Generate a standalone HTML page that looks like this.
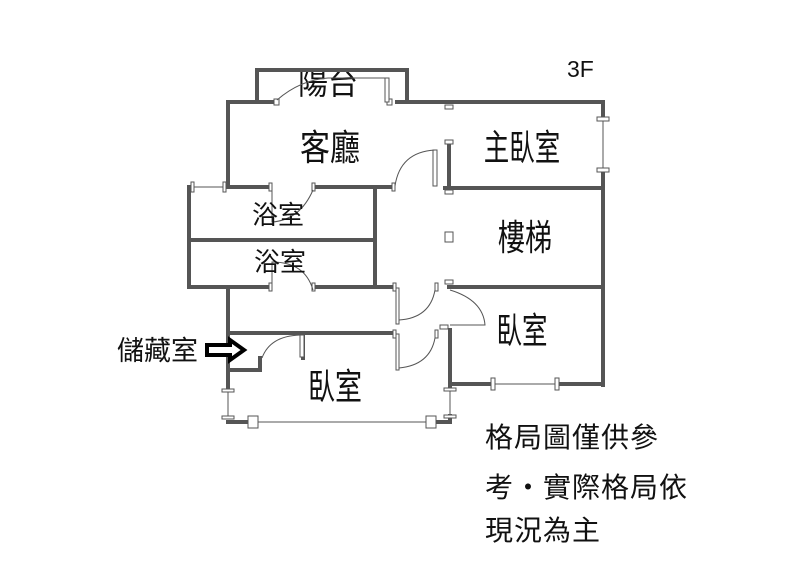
<!DOCTYPE html>
<html><head><meta charset="utf-8"><style>
html,body{margin:0;padding:0;background:#fff;width:797px;height:575px;overflow:hidden}
svg{display:block}
text{font-family:"Liberation Sans","Noto Sans CJK TC",sans-serif;fill:#111}
</style></head><body>
<svg width="797" height="575" viewBox="0 0 797 575">
<defs><clipPath id="bc"><rect x="255" y="70" width="160" height="40"/></clipPath></defs>
<text x="328" y="94" font-size="30" text-anchor="middle" clip-path="url(#bc)" transform="translate(328,94) scale(1,1.05) translate(-328,-94)">陽台</text>
<g stroke="#555" stroke-width="4" fill="none" stroke-linecap="square">
<polyline points="257,100 257,70 407,70 407,100"/>
<line x1="228" y1="102" x2="274" y2="102"/>
<line x1="397" y1="102" x2="603" y2="102"/>
<line x1="228" y1="102" x2="228" y2="187"/>
<line x1="603" y1="102" x2="603" y2="116"/>
<line x1="603" y1="172" x2="603" y2="385"/>
<line x1="228" y1="187" x2="270" y2="187"/>
<line x1="314" y1="187" x2="393" y2="187"/>
<line x1="445" y1="188" x2="603" y2="188"/>
<line x1="449" y1="143" x2="449" y2="188"/>
<line x1="189" y1="187" x2="189" y2="287"/>
<line x1="375" y1="187" x2="375" y2="287"/>
<line x1="189" y1="240" x2="375" y2="240"/>
<line x1="189" y1="287" x2="270" y2="287"/>
<line x1="314" y1="287" x2="393" y2="287"/>
<line x1="449" y1="287" x2="603" y2="287"/>
<line x1="228" y1="287" x2="228" y2="390"/>
<line x1="228" y1="333" x2="393" y2="333"/>
<polyline points="228,370 260,370 260,358"/>
<line x1="303" y1="335" x2="303" y2="358"/>
<line x1="450" y1="330" x2="450" y2="388"/>
<line x1="450" y1="384" x2="492" y2="384"/>
<line x1="558" y1="384" x2="603" y2="384"/>
<line x1="228" y1="422" x2="248" y2="422"/>
<line x1="436" y1="422" x2="450" y2="422"/>
<line x1="450" y1="416" x2="450" y2="422"/>
</g>
<g stroke="#555" stroke-width="1" fill="#fff">
<line x1="603" y1="118" x2="603" y2="170"/>
<rect x="597" y="117" width="12" height="4"/><rect x="597" y="168" width="12" height="4"/>
<line x1="192" y1="187" x2="225" y2="187"/>
<rect x="191" y="182" width="3" height="10"/><rect x="223" y="182" width="3" height="10"/>
<line x1="228" y1="392" x2="228" y2="418"/>
<rect x="222" y="389" width="12" height="3"/><rect x="222" y="416" width="12" height="3"/>
<line x1="258" y1="422" x2="426" y2="422"/>
<rect x="248" y="416" width="10" height="12"/><rect x="426" y="416" width="10" height="12"/>
<line x1="450" y1="390" x2="450" y2="416"/>
<rect x="444" y="388" width="12" height="3"/><rect x="444" y="415" width="12" height="3"/>
<line x1="494" y1="384" x2="556" y2="384"/>
<rect x="491" y="378" width="4" height="12"/><rect x="555" y="378" width="4" height="12"/>
<rect x="274" y="99" width="5" height="6"/><rect x="387" y="99" width="5" height="6"/>
<rect x="385" y="78" width="4" height="24"/>
<rect x="445" y="105" width="8" height="4"/><rect x="445" y="140" width="8" height="4"/>
<rect x="445" y="190" width="8" height="4"/><rect x="445" y="232" width="8" height="10"/>
<rect x="445" y="280" width="8" height="4"/>
<rect x="433" y="150" width="4" height="36"/>
<rect x="392" y="183" width="3" height="8"/>
<rect x="269" y="183" width="3" height="8"/><rect x="312" y="183" width="3" height="8"/>
<rect x="269" y="283" width="3" height="8"/><rect x="312" y="283" width="3" height="8"/>
<rect x="393" y="283" width="3" height="8"/><rect x="435" y="283" width="3" height="8"/>
<rect x="393" y="330" width="3" height="8"/><rect x="435" y="330" width="3" height="8"/>
<rect x="396" y="288" width="3" height="36"/>
<rect x="396" y="334" width="3" height="36"/>
<rect x="300" y="335" width="4" height="22"/>
<rect x="440" y="325" width="8" height="4"/>
</g>
<g stroke="#555" stroke-width="1" fill="none">
<path d="M277,100 Q300,80 328,78 L386,78"/>
<path d="M395,186 Q400,152 435,150"/>
<path d="M399,320 Q430,318 435,290"/>
<path d="M399,368 Q430,365 435,338"/>
<path d="M450,290 Q483,300 485,325 L450,325"/>
<path d="M272,190 L272,222 Q300,220 313,190"/>
<path d="M272,290 L272,262 Q305,262 313,290"/>
<path d="M262,358 Q270,336 300,335"/>
</g>
<g font-size="30" text-anchor="middle">
<text transform="translate(330,160) scale(1,1.2)">客廳</text>
<text transform="translate(522,160) scale(0.85,1.2)">主臥室</text>
<text transform="translate(525,250) scale(0.9,1.2)">樓梯</text>
<text transform="translate(522,343) scale(0.85,1.2)">臥室</text>
<text transform="translate(335,399) scale(0.9,1.2)">臥室</text>
</g>
<g font-size="26" text-anchor="middle">
<text x="278" y="224">浴室</text>
<text x="280" y="271">浴室</text>
</g>
<text x="567" y="77" font-size="23">3F</text>
<text x="117" y="360" font-size="27">儲藏室</text>
<path d="M207,345 L230,345 L230,340 L244,350 L230,360 L230,355 L207,355 Z" fill="#fff" stroke="#000" stroke-width="4"/>
<g font-size="28" letter-spacing="1">
<text x="485" y="447">格局圖僅供參</text>
<text x="485" y="497">考‧實際格局依</text>
<text x="485" y="540">現況為主</text>
</g>
</svg>
</body></html>
